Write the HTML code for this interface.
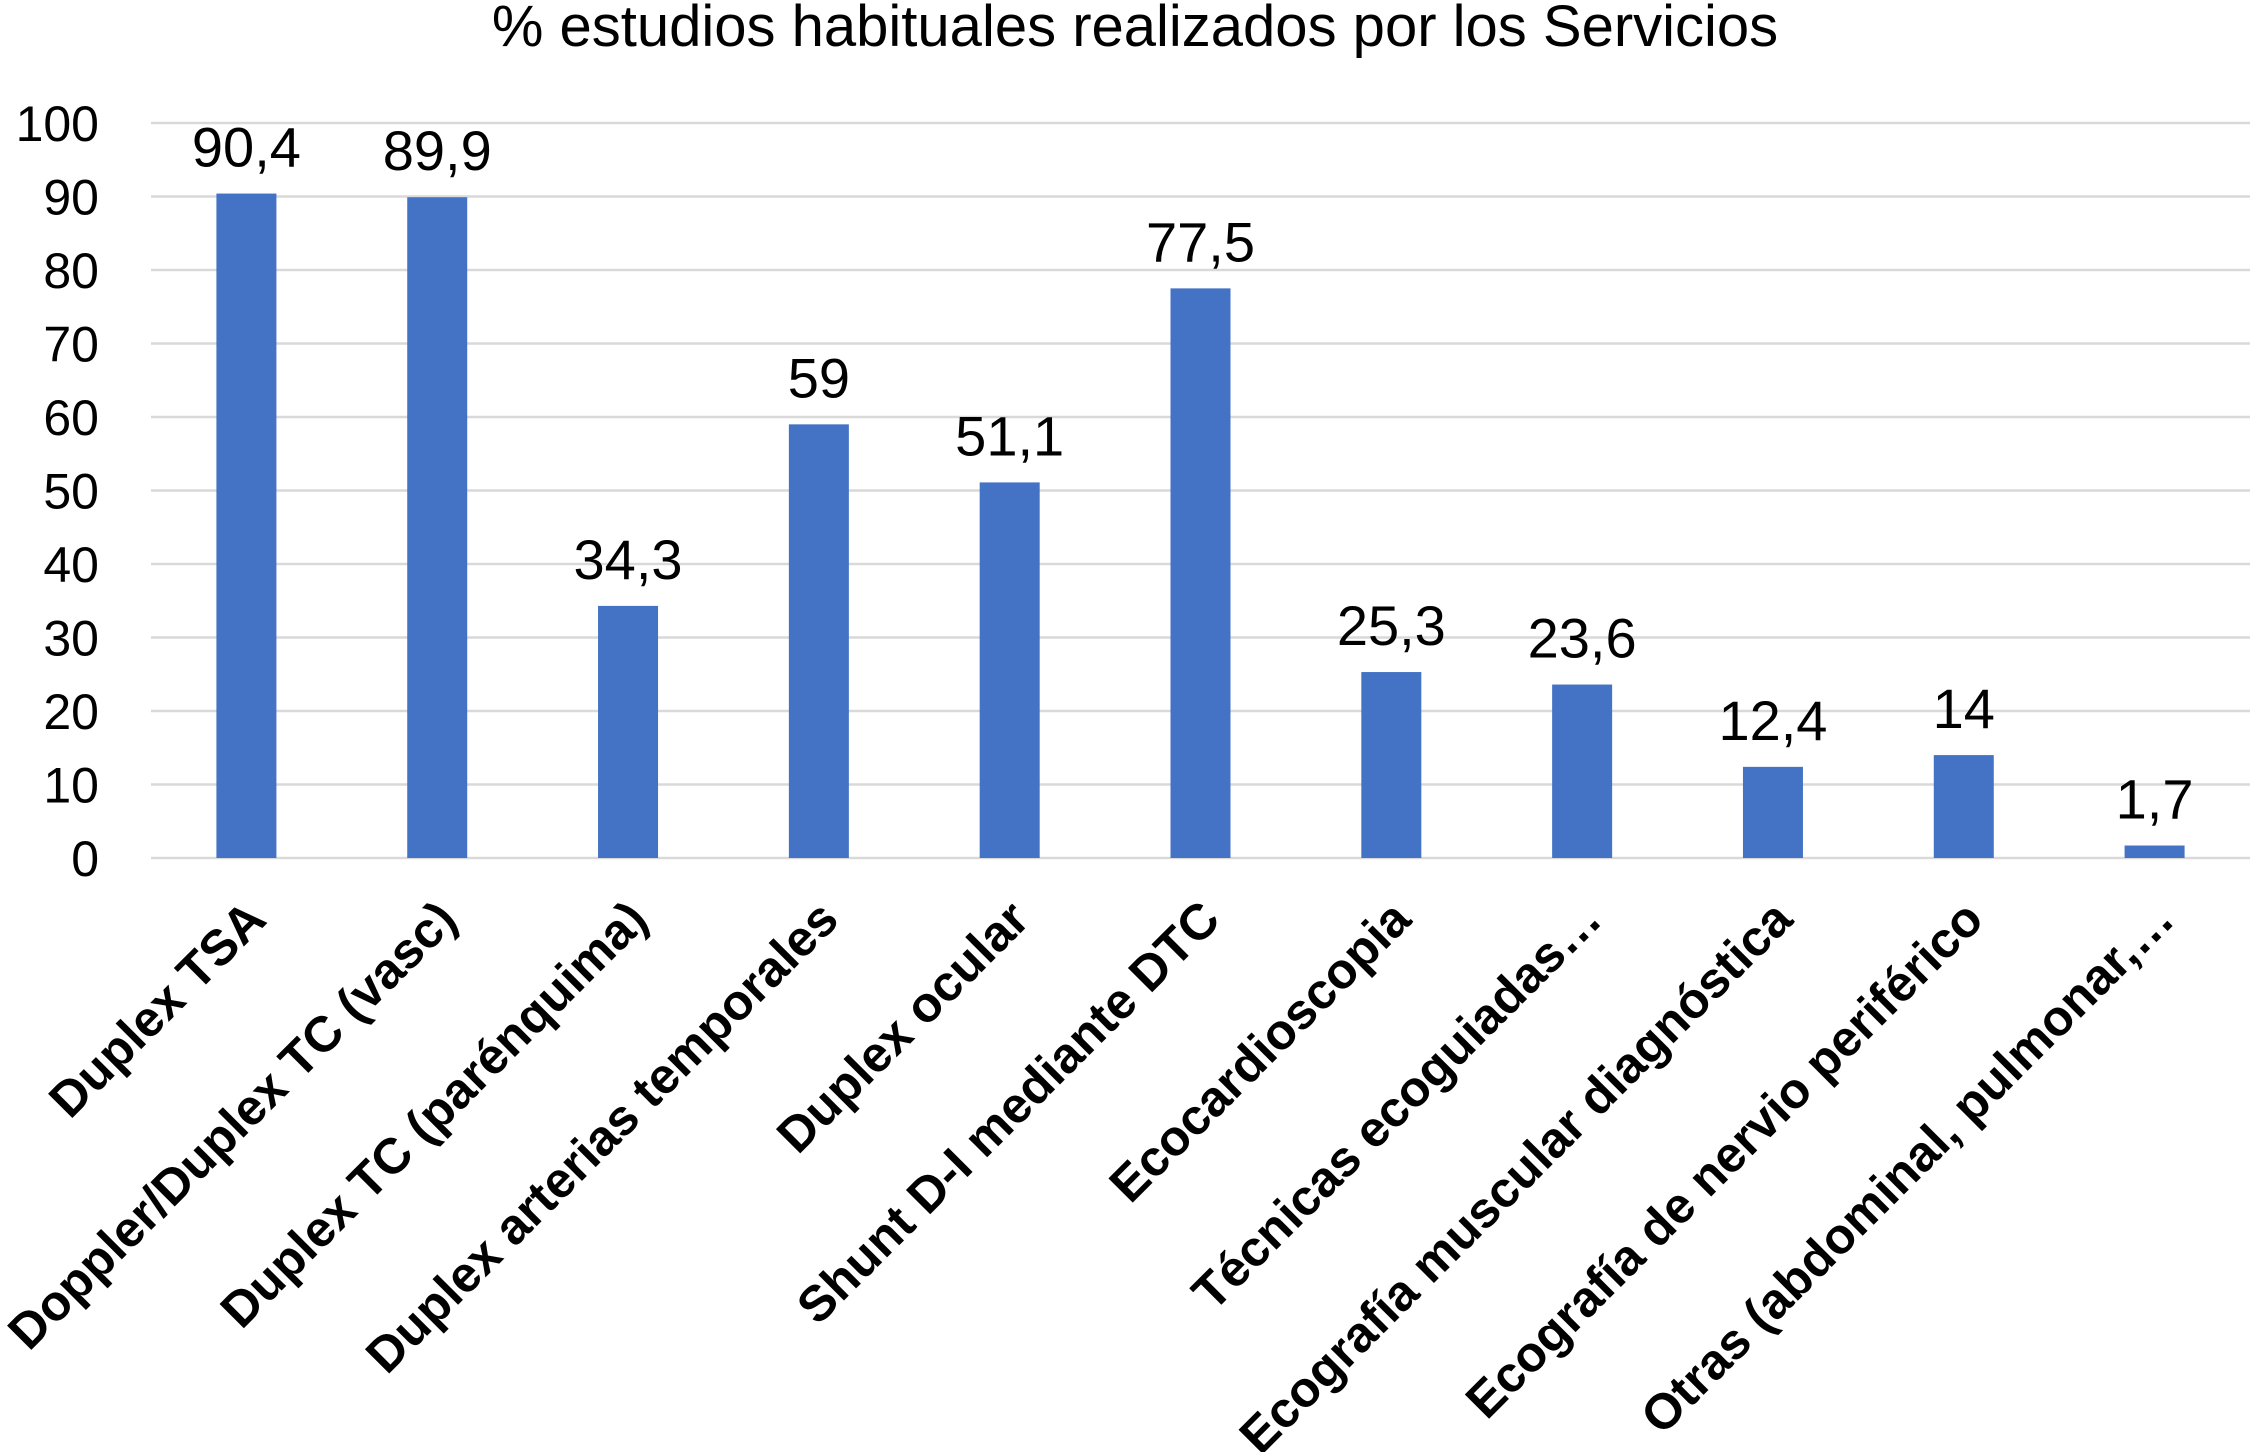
<!DOCTYPE html>
<html><head><meta charset="utf-8"><style>
html,body{margin:0;padding:0;background:#fff;}
svg{display:block;font-family:"Liberation Sans","DejaVu Sans",sans-serif;}
</style></head><body>
<svg id="chart" width="2250" height="1452" viewBox="0 0 2250 1452">
<text x="1135" y="46" text-anchor="middle" font-size="58" fill="#000">% estudios habituales realizados por los Servicios</text>
<g id="grid"></g>
<g id="yticks"></g>
<g id="bars"></g>
<g id="labels"></g>
<g id="xlabels"></g>
</svg>
<script>
const categories = ["Duplex TSA","Doppler/Duplex TC (vasc)","Duplex TC (parénquima)","Duplex arterias temporales","Duplex ocular","Shunt D-I mediante DTC","Ecocardioscopia","Técnicas ecoguiadas…","Ecografía muscular diagnóstica","Ecografía de nervio periférico","Otras (abdominal, pulmonar,…"];
const values = [90.4,89.9,34.3,59,51.1,77.5,25.3,23.6,12.4,14,1.7];
const valueLabels = ["90,4","89,9","34,3","59","51,1","77,5","25,3","23,6","12,4","14","1,7"];
const yTicks = [0,10,20,30,40,50,60,70,80,90,100];

const NS="http://www.w3.org/2000/svg";
const plotL=151, plotR=2250, y0=858, y100=123;
const y=v=>y0+(y100-y0)*v/100;
const band=(plotR-plotL)/categories.length;
const x=i=>plotL+band*(i+0.5);
const barW=60;
function mk(tag,attrs,parent){const e=document.createElementNS(NS,tag);for(const k in attrs)e.setAttribute(k,attrs[k]);document.getElementById(parent).appendChild(e);return e;}
yTicks.forEach(t=>{
  const l=mk('line',{x1:plotL,x2:plotR,y1:y(t),y2:y(t),stroke:'#d9d9d9','stroke-width':2.5},'grid');
  
  
  const tx=mk('text',{x:99,y:y(t)+18,'text-anchor':'end','font-size':50,fill:'#000'},'yticks');
  tx.textContent=t;
  
  
});
values.forEach((v,i)=>{
  const r=mk('rect',{x:x(i)-barW/2,y:y(v),width:barW,height:y0-y(v),fill:'#4472c4'},'bars');
  
  
  const t=mk('text',{x:x(i),y:y(v)-27,'text-anchor':'middle','font-size':56,fill:'#000'},'labels');
  t.textContent=valueLabels[i];
  
  
  const cx=x(i)+22, cy=y0+64;
  const c=mk('text',{x:cx,y:cy,'text-anchor':'end','font-size':50,'font-weight':'bold',fill:'#000',transform:`rotate(-45 ${cx} ${cy})`},'xlabels');
  c.textContent=categories[i];
  
  
});
</script>
</body></html>
